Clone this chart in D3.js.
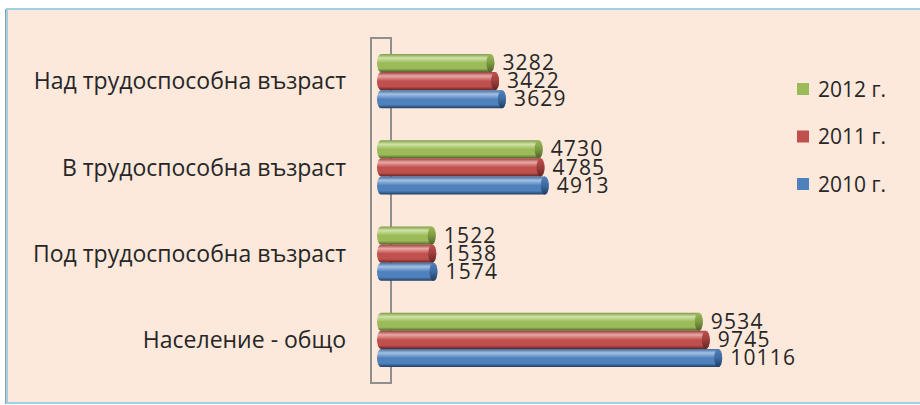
<!DOCTYPE html>
<html>
<head>
<meta charset="utf-8">
<script src="https://cdn.jsdelivr.net/npm/d3@7"></script>
<style>
  html, body { margin: 0; padding: 0; background: #fff; }
  svg { display: block; }
  text { font-family: "Open Sans", "Noto Sans", sans-serif; fill: #262626; }
</style>
</head>
<body>
<svg id="chart" width="920" height="405"></svg>
<script>
"use strict";

// categories, top to bottom
const categories = ["Над трудоспособна възраст", "В трудоспособна възраст", "Под трудоспособна възраст", "Население - общо"];
// series, in the order drawn inside each group (top to bottom)
const seriesNames = ["2012 г.", "2011 г.", "2010 г."];
const values2012 = [3282, 4730, 1522, 9534];
const values2011 = [3422, 4785, 1538, 9745];
const values2010 = [3629, 4913, 1574, 10116];
const xMax = 12000;

const seriesValues = [values2012, values2011, values2010];
const palette = {
  "2012 г.": {base: "#9bbb59", light: "#cfe3a6", dark: "#4f6228", edge: "#7e9a45"},
  "2011 г.": {base: "#c0504d", light: "#e8a9a7", dark: "#632523", edge: "#9c3e3b"},
  "2010 г.": {base: "#4f81bd", light: "#a3c0e4", dark: "#1f3d63", edge: "#3d6aa0"}
};

const svg = d3.select("#chart");

// panel
svg.append("rect").attr("x", 5).attr("y", 9).attr("width", 2).attr("height", 395).attr("fill", "#9a9a9a");
svg.append("rect")
  .attr("x", 7).attr("y", 9).attr("width", 930).attr("height", 394)
  .attr("fill", "#fde9dc").attr("stroke", "#9fd1e3").attr("stroke-width", 2);

const x = d3.scaleLinear().domain([0, xMax]).range([381, 781]);
const y = d3.scaleBand().domain(categories).range([38, 383]).paddingInner(0.37).paddingOuter(0.185);
const ySub = d3.scaleBand().domain(seriesNames).range([0, y.bandwidth()]);

// gradients
const defs = svg.append("defs");
seriesNames.forEach((s, i) => {
  const c = palette[s];
  const g = defs.append("linearGradient").attr("id", `grad-${i}`)
    .attr("x1", 0).attr("y1", 0).attr("x2", 0).attr("y2", 1);
  [[0, c.edge], [0.22, c.light], [0.5, c.base], [0.8, c.base], [1, c.dark]].forEach(([o, col]) => {
    g.append("stop").attr("offset", o).attr("stop-color", col);
  });
  const gc = defs.append("linearGradient").attr("id", `cap-${i}`)
    .attr("x1", 0).attr("y1", 0).attr("x2", 0).attr("y2", 1);
  [[0, c.base], [0.5, c.edge], [1, c.dark]].forEach(([o, col]) => {
    gc.append("stop").attr("offset", o).attr("stop-color", col);
  });
});

// back wall of the 3D axis
svg.append("rect")
  .attr("x", 371).attr("y", 38).attr("width", 20).attr("height", 345)
  .attr("fill", "none").attr("stroke", "#8f8f8f").attr("stroke-width", 2);

// category labels
svg.append("g").selectAll("text").data(categories).join("text")
  .attr("x", 346)
  .attr("y", d => y(d) + y.bandwidth() / 2)
  .attr("dy", "0.36em")
  .attr("text-anchor", "end")
  .attr("font-size", 23)
  .text(d => d);

// bars
const rx = 4;
seriesNames.forEach((s, i) => {
  const vals = seriesValues[i];
  const g = svg.append("g");
  const rows = categories.map((c, k) => ({c, v: vals[k]}));
  const h = ySub.bandwidth();
  g.selectAll("path").data(rows).join("path")
    .attr("d", d => {
      const y0 = y(d.c) + ySub(s), y1 = y0 + h, x0 = x(0), x1 = x(d.v);
      return `M${x0},${y0}L${x1},${y0}A${rx},${h / 2} 0 0 1 ${x1},${y1}L${x0},${y1}A${rx},${h / 2} 0 0 1 ${x0},${y0}Z`;
    })
    .attr("fill", `url(#grad-${i})`);
  g.selectAll("ellipse").data(rows).join("ellipse")
    .attr("cx", d => x(d.v))
    .attr("cy", d => y(d.c) + ySub(s) + h / 2)
    .attr("rx", rx).attr("ry", h / 2)
    .attr("fill", `url(#cap-${i})`);
  g.selectAll("text").data(rows).join("text")
    .attr("x", d => x(d.v) + rx + 8)
    .attr("y", d => y(d.c) + ySub(s) + h / 2)
    .attr("dy", "0.34em")
    .attr("font-size", 21)
    .attr("letter-spacing", 1.2)
    .text(d => d.v);
});

// legend
const legend = svg.append("g").attr("transform", "translate(797,83)");
seriesNames.forEach((s, i) => {
  const row = legend.append("g").attr("transform", `translate(0,${i * 47.5})`);
  row.append("rect").attr("width", 12).attr("height", 12).attr("fill", palette[s].base);
  row.append("text").attr("x", 21).attr("y", 6).attr("dy", "0.36em").attr("font-size", 21).text(s);
});
</script>
</body>
</html>
